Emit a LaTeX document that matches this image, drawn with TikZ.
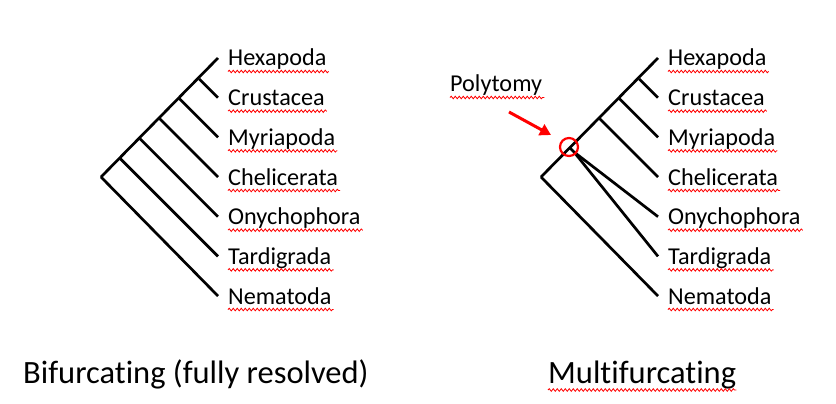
\documentclass[tikz,border=0pt]{standalone}
\usepackage{fontspec}
\setmainfont{Carlito}[Ligatures=NoCommon]
\usetikzlibrary{decorations.pathmorphing,arrows.meta}
\tikzset{
branch/.style={line width=2.7pt},
taxon/.style={anchor=base west,inner sep=0pt,font=\fontsize{24.2}{28}\selectfont},
caption/.style={anchor=base west,inner sep=0pt,font=\fontsize{32.5}{36}\selectfont},
squig/.style={red,line width=0.8pt,decorate,decoration={snake,amplitude=1.3pt,segment length=4pt}}
}
\begin{document}
\begin{tikzpicture}[x=1pt,y=-1pt]
\useasboundingbox (0,0) rectangle (836,404);
\foreach \tx/\s in {0/L,440/R}{
\begin{scope}[xshift=\tx pt]
\coordinate (root\s) at (101,177);
\coordinate (top\s) at (218,58);
\foreach \n [count=\i from 0, evaluate=\i as \y using 58+39.67*\i] in {Hexapoda,Crustacea,Myriapoda,Chelicerata,Onychophora,Tardigrada,Nematoda}{
\coordinate (tip\s\i) at (218,\y);
\coordinate (node\s\i) at ({248-\y/2},{30+\y/2});
\node[taxon] (lab\s\i) at (228,\y+8) {\n};
\draw[squig] ([yshift=-5.5pt]lab\s\i.base west) -- ([yshift=-5.5pt,xshift=2pt]lab\s\i.base east);
}
\draw[branch] (root\s) -- (top\s);
\draw[branch] (root\s) -- (tip\s6);
\end{scope}
}
\foreach \i in {1,2,3}{
\draw[branch] (nodeL\i) -- (tipL\i);
\draw[branch] (nodeR\i) -- (tipR\i);
}
\foreach \i in {4,5}
\draw[branch] (nodeL\i) -- (tipL\i);
\coordinate (poly) at (570,148);
\coordinate (fan) at (574,152);
\draw[branch] (poly) -- (fan) -- (tipR4);
\draw[branch] (fan) -- (tipR5);
\draw[red,line width=2.2pt] (569,147) circle (9);
\node[taxon] (polylab) at (450,92) {Polytomy};
\draw[squig] ([yshift=-5.5pt]polylab.base west) -- ([yshift=-5.5pt,xshift=2pt]polylab.base east);
\coordinate (arrtail) at (509,112);
\coordinate (arrhead) at (551,135);
\draw[red,line width=3pt,-{Triangle[length=11pt,width=12pt]}] (arrtail) -- (arrhead);
\node[caption] (bif) at (23,383) {Bifurcating (fully resolved)};
\node[caption] (multi) at (548,383) {Multifurcating};
\draw[squig] ([yshift=-7pt]multi.base west) -- ([yshift=-7pt]multi.base east);
\end{tikzpicture}
\end{document}
